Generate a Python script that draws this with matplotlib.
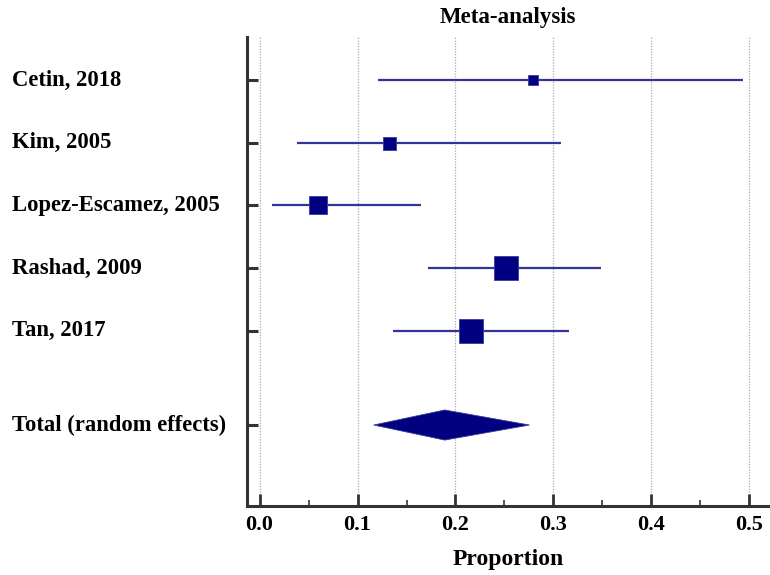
import matplotlib
matplotlib.use("Agg")
import matplotlib.pyplot as plt
import matplotlib.transforms as mtrans
from matplotlib.ticker import MultipleLocator

studies = ["Cetin, 2018", "Kim, 2005", "Lopez-Escamez, 2005", "Rashad, 2009", "Tan, 2017"]
estimates = [0.279, 0.1325, 0.060, 0.252, 0.216]
lower = [0.121, 0.038, 0.0126, 0.172, 0.136]
upper = [0.493, 0.308, 0.165, 0.348, 0.316]
weight_px = [10, 13, 18, 24, 24]  # marker side in pixels (relative weight)

total_label = "Total (random effects)"
total_est = 0.189
total_lo = 0.1165
total_hi = 0.2755

plt.rcParams['font.family'] = ['Liberation Serif', 'DejaVu Serif']
fig = plt.figure(figsize=(7.7, 5.75), dpi=100)
ax = fig.add_axes([247/770, 1 - 505.7/575, 1 - 247/770, (505.7 - 37)/575])

line_col = "#333399"
sq_col = "#000080"

ypos = list(range(1, len(studies) + 1))
y_total = len(studies) + 1.5

ax.set_xlim(-0.0128, 0.521)
ax.set_ylim(y_total + 1.286, 0.315)

for x in [0.0, 0.1, 0.2, 0.3, 0.4, 0.5]:
    ax.axvline(x, color="#aaaaaa", lw=0.9, ls=(0, (1, 1.2)), zorder=0)

for y, e, lo, hi, w in zip(ypos, estimates, lower, upper, weight_px):
    ax.plot([lo, hi], [y, y], color=line_col, lw=1.6, solid_capstyle="butt", zorder=2)
    ax.plot([e], [y], marker="s", ms=w * 0.72, color=sq_col, mec="#3a3a9a", mew=0.6, zorder=3)

h = 0.24
ax.fill([total_lo, total_est, total_hi, total_est],
        [y_total, y_total - h, y_total, y_total + h],
        color=sq_col, ec="#3a3a9a", lw=0.6, zorder=3)

ax.set_yticks(ypos + [y_total])
ax.set_yticklabels([])
trans = mtrans.blended_transform_factory(fig.transFigure, ax.transData)
for y, s in zip(ypos + [y_total], studies + [total_label]):
    ax.text(12/770, y, s, transform=trans, ha="left", va="center",
            fontsize=16.3, fontweight="bold")

ax.xaxis.set_minor_locator(MultipleLocator(0.05))
ax.set_xticks([0.0, 0.1, 0.2, 0.3, 0.4, 0.5])
ax.set_xticklabels(["0.0", "0.1", "0.2", "0.3", "0.4", "0.5"], fontsize=16, fontweight="bold")
ax.tick_params(axis="x", which="major", direction="in", length=9, width=2, color="#333333", pad=7)
ax.tick_params(axis="x", which="minor", direction="in", length=4.5, width=1.2, color="#333333")
ax.tick_params(axis="y", which="major", direction="in", length=8, width=2.2, color="#333333")

for s in ["top", "right"]:
    ax.spines[s].set_visible(False)
for s in ["left", "bottom"]:
    ax.spines[s].set_linewidth(2.2)
    ax.spines[s].set_color("#333333")

ax.set_xlabel("Proportion", fontsize=17, fontweight="bold", labelpad=10)
fig.text(508/770, 1 - 17/575, "Meta-analysis", ha="center", va="center", fontsize=16.5, fontweight="bold")

fig.savefig("out.png", dpi=100)
